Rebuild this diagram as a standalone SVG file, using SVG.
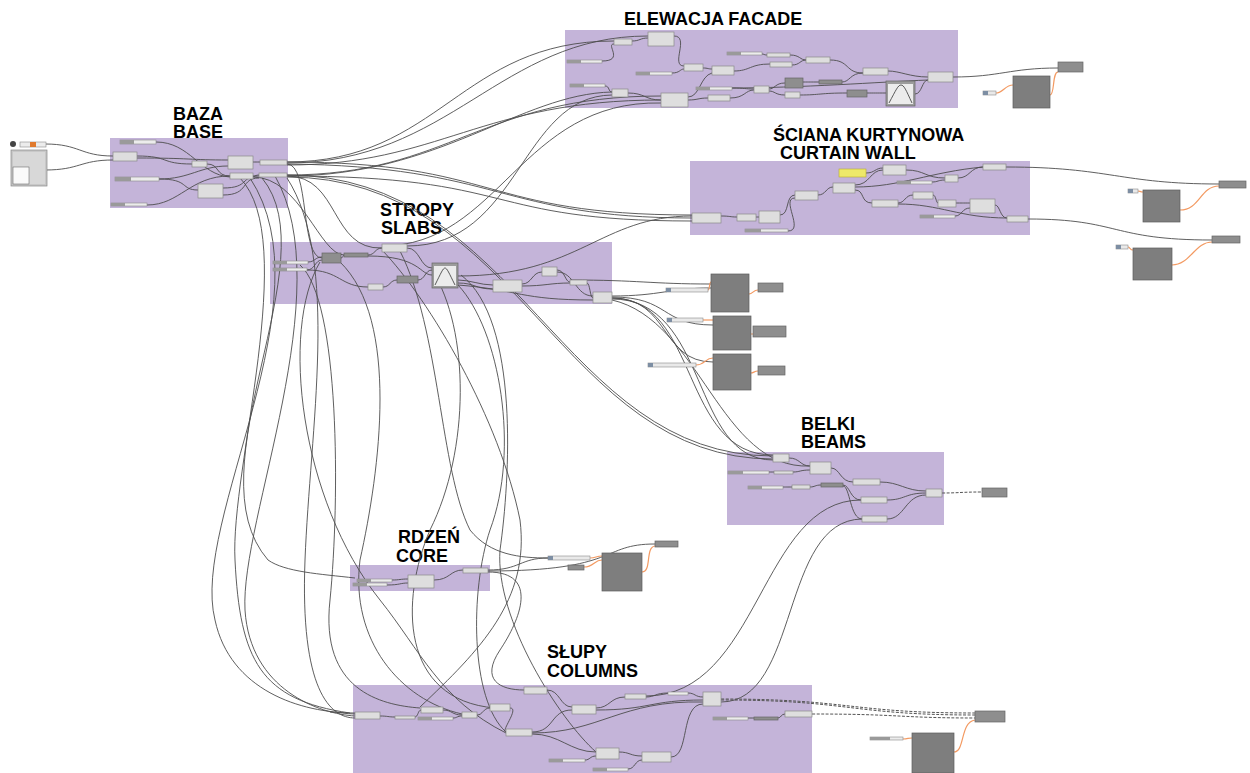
<svg xmlns="http://www.w3.org/2000/svg" width="1250" height="773" viewBox="0 0 1250 773">
<style>
.grp{fill:#c4b4d9}
.t{font-family:"Liberation Sans",Arial,sans-serif;font-weight:bold;font-size:18px;fill:#000}
.n{fill:#dedede;stroke:#8a8a8a;stroke-width:0.7}
.nd{fill:#8e8e8e;stroke:#666;stroke-width:0.7}
.big{fill:#7e7e7e;stroke:#5c5c5c;stroke-width:0.7}
.sl{fill:#ececec;stroke:#8a8a8a;stroke-width:0.6}
.sll{fill:#9a9a9a}
.pn{fill:#e9e9e9;stroke:#8a8a8a;stroke-width:0.6}
.pi{fill:#7d8ea3}
.gm{fill:#9c9c9c;stroke:#666;stroke-width:0.7}
.gmi{fill:#ececec}
.hump{fill:none;stroke:#333;stroke-width:0.8}
.w{fill:none;stroke:#4d4d4d;stroke-width:0.9}
.wd{fill:none;stroke:#555;stroke-width:1;stroke-dasharray:3 1.5}
.wo{fill:none;stroke:#f39a62;stroke-width:1.2}
</style>

<!-- groups (clusters) -->
<g id="groups">
<rect class="grp" x="565" y="30" width="393" height="78"/>
<rect class="grp" x="110" y="138" width="178" height="70"/>
<rect class="grp" x="690" y="161" width="340" height="74"/>
<rect class="grp" x="270" y="242" width="342" height="62"/>
<rect class="grp" x="727" y="452" width="217" height="73"/>
<rect class="grp" x="350" y="565" width="140" height="26"/>
<rect class="grp" x="353" y="685" width="459" height="88"/>
</g>

<g id="titles">
<text class="t" x="624" y="25">ELEWACJA FACADE</text>
<text class="t" x="173" y="120">BAZA<tspan x="173" y="138">BASE</tspan></text>
<text class="t" x="773" y="141">ŚCIANA KURTYNOWA<tspan x="780" y="159">CURTAIN WALL</tspan></text>
<text class="t" x="380" y="216">STROPY<tspan x="381" y="234">SLABS</tspan></text>
<text class="t" x="801" y="430">BELKI<tspan x="801" y="448">BEAMS</tspan></text>
<text class="t" x="398" y="543">RDZEŃ<tspan x="396" y="562">CORE</tspan></text>
<text class="t" x="547" y="658">SŁUPY<tspan x="547" y="677">COLUMNS</tspan></text>
</g>

<g id="connectors">
<!-- left inputs -->
<path class="w" d="M45,144 C80,144 80,156 113,156"/>
<path class="w" d="M45,170 C80,170 80,160 113,160"/>
<!-- baza internal -->
<path class="w" d="M137,156 C170,156 160,164 192,164"/>
<path class="w" d="M137,158 C190,158 190,160 228,160"/>
<path class="w" d="M159,179 C190,179 200,166 228,166"/>
<path class="w" d="M159,179 C190,179 180,190 198,190"/>
<path class="w" d="M147,205 C180,205 190,176 230,176"/>
<path class="w" d="M156,142 C190,142 200,175 230,177"/>
<path class="w" d="M207,164 C220,164 215,176 230,176"/>
<path class="w" d="M253,162 C256,162 256,162 260,162"/>
<path class="w" d="M253,176 C256,176 256,175 259,175"/>
<path class="w" d="M223,188 C250,188 240,176 259,176"/>
<path class="w" d="M223,195 C250,195 240,178 259,178"/>
<!-- baza to elevation -->
<path class="w" d="M287,162 C440,162 460,41 614,41"/>
<path class="w" d="M287,163 C450,163 500,36 648,36"/>
<path class="w" d="M287,165 C440,165 480,100 661,100"/>
<path class="w" d="M287,175 C450,175 480,96 661,96"/>
<path class="w" d="M287,176 C440,176 520,94 612,92"/>
<!-- baza to curtain -->
<path class="w" d="M287,162 C500,162 480,215 692,215"/>
<path class="w" d="M287,164 C500,166 500,218 692,218"/>
<path class="w" d="M287,176 C520,176 480,221 692,221"/>
<!-- baza to beams -->
<path class="w" d="M287,175 C520,175 560,456 773,456"/>
<path class="w" d="M287,177 C520,177 560,459 773,459"/>
<!-- baza to slabs -->
<path class="w" d="M287,164 C310,164 300,258 322,258"/>
<path class="w" d="M287,176 C340,176 330,250 382,248"/>
<path class="w" d="M253,177 C300,177 320,255 344,255"/>
<!-- baza vertical -->
<path class="w" d="M262,178 C330,260 190,470 268,560 C285,572 320,574 355,578"/>
<path class="w" d="M250,178 C330,300 190,520 215,620 C230,690 300,713 355,713"/>
<path class="w" d="M275,176 C340,290 240,520 245,610 C250,690 320,714 355,716"/>
<path class="w" d="M287,178 C340,260 310,430 305,560 C300,690 330,718 355,718"/>
<path class="w" d="M240,178 C300,240 230,470 235,560 C240,660 260,700 350,713"/>
<!-- slabs internal -->
<path class="w" d="M308,262 C315,262 315,257 322,257"/>
<path class="w" d="M307,270 C315,270 315,260 322,260"/>
<path class="w" d="M341,258 C343,258 343,255 344,255"/>
<path class="w" d="M368,255 C375,255 375,248 382,248"/>
<path class="w" d="M307,270 C340,270 340,287 368,287"/>
<path class="w" d="M383,287 C390,287 390,280 397,280"/>
<path class="w" d="M418,280 C425,280 425,270 432,270"/>
<path class="w" d="M407,248 C420,248 420,268 432,268"/>
<path class="w" d="M368,256 C420,256 420,275 432,275"/>
<path class="w" d="M458,280 C470,280 480,285 493,285"/>
<path class="w" d="M458,283 C475,283 475,289 493,289"/>
<path class="w" d="M522,284 C532,284 532,272 542,272"/>
<path class="w" d="M522,286 C545,286 550,283 570,283"/>
<path class="w" d="M557,270 C565,270 565,282 570,282"/>
<path class="w" d="M557,272 C575,272 575,296 593,296"/>
<path class="w" d="M587,283 C590,283 590,298 593,298"/>
<path class="w" d="M458,285 C520,290 520,300 593,300"/>
<path class="w" d="M458,276 C580,276 600,216 692,216"/>
<!-- slabs to elevation -->
<path class="w" d="M407,246 C520,246 520,96 612,95"/>
<path class="w" d="M382,246 C500,246 520,100 661,103"/>
<!-- slabs to outputs -->
<path class="w" d="M612,296 C660,296 670,288 711,288"/>
<path class="w" d="M570,280 C640,280 650,284 711,284"/>
<path class="w" d="M612,297 C670,297 660,325 713,325"/>
<path class="w" d="M612,298 C670,298 660,362 713,362"/>
<!-- slabs to beams -->
<path class="w" d="M612,298 C700,298 680,455 773,455"/>
<path class="w" d="M612,299 C710,299 690,460 773,460"/>
<path class="w" d="M612,300 C700,320 720,470 810,466"/>
<!-- slabs down to core / columns -->
<path class="w" d="M400,251 C440,330 440,470 470,530 C490,555 520,558 548,558"/>
<path class="w" d="M432,270 C470,330 470,450 430,530 C400,600 400,700 495,708"/>
<path class="w" d="M382,250 C430,300 500,420 520,520 C530,600 480,650 420,707"/>
<path class="w" d="M300,265 C340,300 340,500 330,600 C320,690 380,705 420,708"/>
<path class="w" d="M458,285 C500,330 520,450 490,530 C470,590 470,700 506,732"/>
<path class="w" d="M340,262 C400,320 380,470 360,560 C350,640 400,700 462,714"/>
<path class="w" d="M461,275 C520,320 510,480 500,550 C495,620 560,720 596,752"/>
<path class="w" d="M320,262 C280,330 300,500 380,600 C420,650 440,700 506,733"/>
<!-- core -->
<path class="w" d="M392,580 C400,580 400,579 408,579"/>
<path class="w" d="M387,585 C400,585 400,583 408,583"/>
<path class="w" d="M434,580 C450,580 450,570 463,570"/>
<path class="w" d="M488,570 C520,570 520,558 548,558"/>
<path class="w" d="M488,571 C620,571 600,544 655,544"/>
<path class="w" d="M488,572 C540,572 520,620 500,650 C480,680 500,690 524,690"/>
<path class="wo" d="M590,558 C596,558 596,556 602,556"/>
<path class="wo" d="M584,567 C594,567 594,560 602,560"/>
<path class="wo" d="M642,572 C652,572 645,547 655,546"/>
<!-- columns internal -->
<path class="w" d="M380,716 C388,716 388,717 395,717"/>
<path class="w" d="M415,717 C418,717 418,710 421,710"/>
<path class="w" d="M443,710 C452,710 452,715 462,715"/>
<path class="w" d="M453,718 C457,718 457,716 462,716"/>
<path class="w" d="M477,715 C483,715 483,708 490,708"/>
<path class="w" d="M510,708 C520,708 500,732 506,732"/>
<path class="w" d="M532,732 C555,732 550,710 572,710"/>
<path class="w" d="M547,690 C560,690 560,707 572,707"/>
<path class="w" d="M596,708 C610,708 610,697 625,697"/>
<path class="w" d="M646,697 C655,697 655,693 668,693"/>
<path class="w" d="M688,693 C695,693 695,697 703,697"/>
<path class="w" d="M532,733 C600,733 620,700 703,702"/>
<path class="w" d="M596,710 C650,710 650,700 703,700"/>
<path class="w" d="M532,734 C560,734 570,752 596,752"/>
<path class="w" d="M585,760 C590,760 590,756 596,756"/>
<path class="w" d="M619,752 C630,752 630,756 642,756"/>
<path class="w" d="M628,769 C635,769 635,760 642,760"/>
<path class="w" d="M671,757 C690,757 680,704 703,704"/>
<path class="w" d="M748,718 C751,718 751,718 754,718"/>
<path class="w" d="M778,718 C781,718 781,714 785,714"/>
<path class="w" d="M330,712 C340,712 345,714 355,714"/>
<!-- columns to beams -->
<path class="w" d="M646,696 C760,696 760,500 861,500"/>
<path class="w" d="M721,702 C800,702 780,520 862,519"/>
<!-- columns to output -->
<path class="wd" d="M721,699 C850,699 850,713 975,713"/>
<path class="wd" d="M721,700 C850,700 850,715 975,715"/>
<path class="wd" d="M812,714 C900,714 900,718 975,718"/>
<path class="wo" d="M903,739 C908,739 908,738 912,738"/>
<path class="wo" d="M954,752 C965,752 960,722 975,720"/>
<!-- beams internal -->
<path class="w" d="M789,458 C800,458 800,466 810,466"/>
<path class="w" d="M769,472 C772,472 772,472 774,472"/>
<path class="w" d="M793,472 C800,472 800,470 810,470"/>
<path class="w" d="M831,468 C840,468 840,482 853,482"/>
<path class="w" d="M783,487 C787,487 787,487 792,487"/>
<path class="w" d="M810,487 C815,487 815,485 821,485"/>
<path class="w" d="M843,485 C850,485 850,500 861,500"/>
<path class="w" d="M843,486 C850,486 850,519 862,519"/>
<path class="w" d="M880,482 C900,482 905,491 926,491"/>
<path class="w" d="M887,500 C905,500 905,493 926,493"/>
<path class="w" d="M887,519 C905,519 905,495 926,495"/>
<path class="wd" d="M942,493 C960,493 960,492 982,492"/>
<!-- curtain internal -->
<path class="w" d="M721,216 C730,216 730,217 737,217"/>
<path class="w" d="M756,217 C757,217 757,217 759,217"/>
<path class="w" d="M780,215 C790,215 785,195 795,195"/>
<path class="w" d="M788,231 C805,231 780,198 795,198"/>
<path class="w" d="M818,195 C826,195 826,187 833,187"/>
<path class="w" d="M855,185 C870,185 870,170 883,170"/>
<path class="w" d="M866,173 C875,173 875,168 883,168"/>
<path class="w" d="M855,187 C900,187 930,172 983,167"/>
<path class="w" d="M906,170 C925,170 925,178 945,178"/>
<path class="w" d="M932,182 C938,182 938,180 945,180"/>
<path class="w" d="M958,178 C970,178 970,167 983,167"/>
<path class="w" d="M855,190 C865,190 860,203 872,203"/>
<path class="w" d="M898,203 C905,203 905,195 913,195"/>
<path class="w" d="M933,195 C936,195 936,203 938,203"/>
<path class="w" d="M898,204 C940,204 960,218 1007,218"/>
<path class="w" d="M956,203 C962,203 962,203 970,203"/>
<path class="w" d="M955,216 C962,216 962,208 970,208"/>
<path class="w" d="M995,205 C1000,205 1000,218 1007,218"/>
<path class="w" d="M1006,167 C1110,167 1120,184 1219,184"/>
<path class="w" d="M1028,219 C1120,219 1110,240 1212,240"/>
<path class="wo" d="M1138,191 C1140,191 1140,192 1143,192"/>
<path class="wo" d="M1180,210 C1200,210 1200,186 1219,186"/>
<path class="wo" d="M1128,247 C1130,247 1130,250 1133,250"/>
<path class="wo" d="M1172,265 C1190,265 1195,242 1212,242"/>
<!-- elevation internal -->
<path class="w" d="M632,41 C640,41 640,38 648,38"/>
<path class="w" d="M602,61 C625,61 605,44 614,44"/>
<path class="w" d="M674,36 C690,36 670,66 684,66"/>
<path class="w" d="M672,73 C680,73 680,69 684,69"/>
<path class="w" d="M703,68 C708,68 708,69 712,69"/>
<path class="w" d="M734,71 C750,71 750,64 770,64"/>
<path class="w" d="M762,54 C764,54 764,55 767,55"/>
<path class="w" d="M790,55 C800,55 800,60 806,60"/>
<path class="w" d="M792,65 C800,65 800,60 806,60"/>
<path class="w" d="M830,60 C850,60 845,73 863,73"/>
<path class="w" d="M605,86 C610,86 608,92 612,92"/>
<path class="w" d="M628,93 C645,93 645,100 661,100"/>
<path class="w" d="M688,100 C698,100 698,98 708,98"/>
<path class="w" d="M688,97 C700,97 700,76 712,73"/>
<path class="w" d="M732,88 C745,88 745,89 754,89"/>
<path class="w" d="M730,98 C745,98 745,90 754,90"/>
<path class="w" d="M769,89 C775,89 775,83 785,83"/>
<path class="w" d="M769,91 C775,91 775,95 785,95"/>
<path class="w" d="M803,82 C810,82 810,82 819,82"/>
<path class="w" d="M842,82 C850,82 850,73 863,73"/>
<path class="w" d="M800,95 C820,95 820,93 847,93"/>
<path class="w" d="M867,93 C875,93 875,93 886,93"/>
<path class="w" d="M888,71 C900,71 910,77 928,77"/>
<path class="w" d="M915,94 C922,94 922,80 928,80"/>
<path class="w" d="M730,88 C800,88 880,82 928,80"/>
<path class="w" d="M953,77 C1000,77 1010,68 1058,68"/>
<path class="wo" d="M996,93 C1003,93 1005,85 1013,85"/>
<path class="wo" d="M1050,95 C1055,95 1052,72 1058,72"/>
<!-- slab output orange -->
<path class="wo" d="M708,290 C710,290 709,282 711,282"/>
<path class="wo" d="M749,294 C753,294 753,290 758,290"/>
<path class="wo" d="M703,320 C708,320 708,320 713,320"/>
<path class="wo" d="M751,334 C752,334 752,334 753,334"/>
<path class="wo" d="M696,365 C705,365 705,358 713,358"/>
<path class="wo" d="M751,373 C754,373 754,371 758,371"/>
</g>

<!-- left inputs -->
<g id="in-slider"><circle cx="13" cy="144" r="3" fill="#444"/><rect class="sl" x="20" y="142" width="26" height="5"/><rect x="30" y="142" width="6" height="5" fill="#e07a2e"/></g>
<g id="in-graph"><rect x="11" y="150" width="36" height="36" fill="#c8c8c8" stroke="#888" stroke-width="0.7"/><rect x="13" y="152" width="32" height="32" fill="#d8d8d8"/><rect x="13" y="167" width="16" height="17" fill="#fafafa" stroke="#555" stroke-width="0.5"/></g>

<!-- BAZA nodes -->
<g id="b1"><rect class="n" x="113" y="152" width="24" height="9"/></g>
<g id="b2"><rect class="sl" x="120" y="140" width="36" height="4"/><rect class="sll" x="120" y="140" width="14" height="4"/></g>
<g id="b3"><rect class="sl" x="115" y="177" width="44" height="4"/><rect class="sll" x="115" y="177" width="16" height="4"/></g>
<g id="b4"><rect class="n" x="192" y="161" width="15" height="6"/></g>
<g id="b5"><rect class="n" x="228" y="156" width="25" height="13"/></g>
<g id="b6"><rect class="n" x="230" y="173" width="23" height="6"/></g>
<g id="b7"><rect class="n" x="260" y="160" width="27" height="5"/></g>
<g id="b8"><rect class="n" x="259" y="173" width="28" height="4"/></g>
<g id="b9"><rect class="n" x="198" y="184" width="25" height="14"/></g>
<g id="b10"><rect class="sl" x="111" y="203" width="36" height="3"/><rect class="sll" x="111" y="203" width="14" height="3"/></g>

<!-- ELEVATION nodes -->
<g id="e1"><rect class="n" x="614" y="39" width="18" height="6"/></g>
<g id="e2"><rect class="n" x="648" y="32" width="26" height="14"/></g>
<g id="e3"><rect class="sl" x="567" y="60" width="35" height="3"/><rect class="sll" x="567" y="60" width="14" height="3"/></g>
<g id="e4"><rect class="sl" x="727" y="52" width="35" height="3"/><rect class="sll" x="727" y="52" width="14" height="3"/></g>
<g id="e5"><rect class="n" x="767" y="53" width="23" height="4"/></g>
<g id="e6"><rect class="n" x="806" y="57" width="24" height="6"/></g>
<g id="e7"><rect class="n" x="684" y="64" width="19" height="7"/></g>
<g id="e8"><rect class="n" x="712" y="66" width="22" height="9"/></g>
<g id="e9"><rect class="n" x="770" y="62" width="22" height="5"/></g>
<g id="e10"><rect class="sl" x="636" y="72" width="36" height="3"/><rect class="sll" x="636" y="72" width="14" height="3"/></g>
<g id="e11"><rect class="sl" x="570" y="84" width="35" height="3"/><rect class="sll" x="570" y="84" width="14" height="3"/></g>
<g id="e12"><rect class="n" x="612" y="89" width="16" height="8"/></g>
<g id="e13"><rect class="n" x="661" y="93" width="27" height="14"/></g>
<g id="e14"><rect class="sl" x="696" y="87" width="36" height="3"/><rect class="sll" x="696" y="87" width="14" height="3"/></g>
<g id="e15"><rect class="n" x="708" y="95" width="22" height="6"/></g>
<g id="e16"><rect class="n" x="754" y="86" width="15" height="7"/></g>
<g id="e17"><rect class="nd" x="785" y="78" width="18" height="10"/></g>
<g id="e18"><rect class="n" x="785" y="92" width="15" height="6"/></g>
<g id="e19"><rect class="nd" x="819" y="80" width="23" height="4"/></g>
<g id="e20"><rect class="n" x="863" y="68" width="25" height="7"/></g>
<g id="e21"><rect class="nd" x="847" y="90" width="20" height="7"/></g>
<g id="e22"><rect class="gm" x="886" y="81" width="29" height="25"/><rect class="gmi" x="888" y="84" width="25" height="20"/><path class="hump" d="M889,103 C896,90 898,85 901,85 C904,85 906,90 912,103"/></g>
<g id="e23"><rect class="n" x="928" y="72" width="25" height="10"/></g>
<g id="e-out"><rect class="nd" x="1058" y="62" width="25" height="10"/></g>
<g id="e-big"><rect class="big" x="1013" y="76" width="37" height="32"/></g>
<g id="e-pan"><rect class="pn" x="983" y="91" width="13" height="4"/><rect class="pi" x="983" y="91" width="5" height="4"/></g>

<!-- CURTAIN WALL nodes -->
<g id="c1"><rect x="839" y="169" width="27" height="8" fill="#eee96a" stroke="#b8ae2e" stroke-width="0.6"/></g>
<g id="c2"><rect class="n" x="883" y="165" width="23" height="10"/></g>
<g id="c3"><rect class="n" x="983" y="164" width="23" height="6"/></g>
<g id="c4"><rect class="n" x="945" y="175" width="13" height="7"/></g>
<g id="c5"><rect class="sl" x="897" y="181" width="35" height="3"/><rect class="sll" x="897" y="181" width="14" height="3"/></g>
<g id="c6"><rect class="n" x="833" y="183" width="22" height="10"/></g>
<g id="c7"><rect class="n" x="795" y="191" width="23" height="9"/></g>
<g id="c8"><rect class="n" x="692" y="213" width="29" height="10"/></g>
<g id="c9"><rect class="n" x="737" y="214" width="19" height="7"/></g>
<g id="c10"><rect class="n" x="759" y="211" width="21" height="12"/></g>
<g id="c11"><rect class="sl" x="745" y="229" width="43" height="3"/><rect class="sll" x="745" y="229" width="16" height="3"/></g>
<g id="c12"><rect class="n" x="872" y="200" width="26" height="7"/></g>
<g id="c13"><rect class="n" x="913" y="192" width="20" height="7"/></g>
<g id="c14"><rect class="n" x="938" y="200" width="18" height="7"/></g>
<g id="c15"><rect class="n" x="970" y="199" width="25" height="14"/></g>
<g id="c16"><rect class="sl" x="920" y="215" width="35" height="3"/><rect class="sll" x="920" y="215" width="14" height="3"/></g>
<g id="c17"><rect class="n" x="1007" y="216" width="21" height="6"/></g>
<g id="c-out1"><rect class="nd" x="1219" y="181" width="27" height="7"/></g>
<g id="c-pan1"><rect class="pn" x="1128" y="189" width="10" height="4"/><rect class="pi" x="1128" y="189" width="5" height="4"/></g>
<g id="c-big1"><rect class="big" x="1143" y="190" width="37" height="32"/></g>
<g id="c-out2"><rect class="nd" x="1212" y="236" width="28" height="7"/></g>
<g id="c-pan2"><rect class="pn" x="1116" y="245" width="12" height="4"/><rect class="pi" x="1116" y="245" width="5" height="4"/></g>
<g id="c-big2"><rect class="big" x="1133" y="248" width="39" height="32"/></g>

<!-- SLABS nodes -->
<g id="s1"><rect class="sl" x="273" y="261" width="35" height="3"/><rect class="sll" x="273" y="261" width="14" height="3"/></g>
<g id="s2"><rect class="sl" x="273" y="268" width="34" height="3"/><rect class="sll" x="273" y="268" width="14" height="3"/></g>
<g id="s3"><rect class="nd" x="322" y="253" width="19" height="10"/></g>
<g id="s4"><rect class="nd" x="344" y="253" width="24" height="4"/></g>
<g id="s5"><rect class="n" x="382" y="244" width="25" height="8"/></g>
<g id="s6"><rect class="n" x="368" y="284" width="15" height="6"/></g>
<g id="s7"><rect class="nd" x="397" y="276" width="21" height="7"/></g>
<g id="s8"><rect class="gm" x="432" y="263" width="26" height="25"/><rect class="gmi" x="434" y="266" width="22" height="20"/><path class="hump" d="M435,285 C441,273 443,268 445,268 C447,268 449,273 455,285"/></g>
<g id="s9"><rect class="n" x="493" y="280" width="29" height="12"/></g>
<g id="s10"><rect class="n" x="542" y="267" width="15" height="9"/></g>
<g id="s11"><rect class="n" x="570" y="280" width="17" height="5"/></g>
<g id="s12"><rect class="n" x="593" y="292" width="19" height="11"/></g>
<g id="so-p1"><rect class="pn" x="666" y="288" width="42" height="4"/><rect class="pi" x="666" y="288" width="5" height="4"/></g>
<g id="so-b1"><rect class="big" x="711" y="274" width="38" height="38"/></g>
<g id="so-o1"><rect class="nd" x="758" y="283" width="25" height="9"/></g>
<g id="so-p2"><rect class="pn" x="667" y="318" width="36" height="4"/><rect class="pi" x="667" y="318" width="5" height="4"/></g>
<g id="so-b2"><rect class="big" x="713" y="316" width="38" height="34"/></g>
<g id="so-o2"><rect class="nd" x="753" y="326" width="33" height="11"/></g>
<g id="so-p3"><rect class="pn" x="648" y="363" width="48" height="4"/><rect class="pi" x="648" y="363" width="5" height="4"/></g>
<g id="so-b3"><rect class="big" x="713" y="354" width="38" height="36"/></g>
<g id="so-o3"><rect class="nd" x="758" y="366" width="27" height="9"/></g>

<!-- BEAMS nodes -->
<g id="m1"><rect class="n" x="773" y="454" width="16" height="8"/></g>
<g id="m2"><rect class="n" x="810" y="462" width="21" height="12"/></g>
<g id="m3"><rect class="sl" x="728" y="471" width="41" height="3"/><rect class="sll" x="728" y="471" width="15" height="3"/></g>
<g id="m4"><rect class="n" x="774" y="471" width="19" height="3"/></g>
<g id="m5"><rect class="n" x="853" y="479" width="27" height="6"/></g>
<g id="m6"><rect class="sl" x="748" y="486" width="35" height="3"/><rect class="sll" x="748" y="486" width="14" height="3"/></g>
<g id="m7"><rect class="n" x="792" y="485" width="18" height="4"/></g>
<g id="m8"><rect class="nd" x="821" y="483" width="22" height="4"/></g>
<g id="m9"><rect class="n" x="861" y="497" width="26" height="6"/></g>
<g id="m10"><rect class="n" x="862" y="516" width="25" height="6"/></g>
<g id="m11"><rect class="n" x="926" y="489" width="16" height="8"/></g>
<g id="m-out"><rect class="nd" x="982" y="488" width="25" height="9"/></g>

<!-- CORE nodes -->
<g id="r1"><rect class="sl" x="357" y="579" width="35" height="3"/><rect class="sll" x="357" y="579" width="14" height="3"/></g>
<g id="r2"><rect class="sl" x="353" y="583" width="34" height="3"/><rect class="sll" x="353" y="583" width="14" height="3"/></g>
<g id="r3"><rect class="n" x="408" y="575" width="26" height="13"/></g>
<g id="r4"><rect class="n" x="463" y="568" width="25" height="5"/></g>
<g id="r-pan"><rect class="pn" x="548" y="556" width="42" height="4"/><rect class="pi" x="548" y="556" width="5" height="4"/></g>
<g id="r-n"><rect class="nd" x="568" y="565" width="16" height="5"/></g>
<g id="r-big"><rect class="big" x="602" y="553" width="40" height="38"/></g>
<g id="r-out"><rect class="nd" x="655" y="541" width="23" height="6"/></g>

<!-- COLUMNS nodes -->
<g id="k1"><rect class="n" x="355" y="712" width="25" height="7"/></g>
<g id="k2"><rect class="n" x="395" y="716" width="20" height="3"/></g>
<g id="k3"><rect class="n" x="421" y="707" width="22" height="6"/></g>
<g id="k4"><rect class="sl" x="418" y="717" width="35" height="3"/><rect class="sll" x="418" y="717" width="14" height="3"/></g>
<g id="k5"><rect class="n" x="462" y="712" width="15" height="6"/></g>
<g id="k6"><rect class="n" x="490" y="704" width="20" height="7"/></g>
<g id="k7"><rect class="n" x="524" y="687" width="23" height="7"/></g>
<g id="k8"><rect class="n" x="506" y="729" width="26" height="7"/></g>
<g id="k9"><rect class="n" x="572" y="705" width="24" height="9"/></g>
<g id="k10"><rect class="n" x="625" y="694" width="21" height="5"/></g>
<g id="k11"><rect class="sl" x="668" y="692" width="20" height="3"/></g>
<g id="k12"><rect class="n" x="703" y="692" width="18" height="14"/></g>
<g id="k13"><rect class="sl" x="713" y="717" width="35" height="3"/><rect class="sll" x="713" y="717" width="14" height="3"/></g>
<g id="k14"><rect class="nd" x="754" y="717" width="24" height="3"/></g>
<g id="k15"><rect class="n" x="785" y="711" width="27" height="6"/></g>
<g id="k16"><rect class="n" x="596" y="748" width="23" height="11"/></g>
<g id="k17"><rect class="n" x="642" y="752" width="29" height="10"/></g>
<g id="k18"><rect class="sl" x="549" y="759" width="36" height="3"/><rect class="sll" x="549" y="759" width="14" height="3"/></g>
<g id="k19"><rect class="sl" x="593" y="768" width="35" height="3"/><rect class="sll" x="593" y="768" width="14" height="3"/></g>
<g id="k-out"><rect class="nd" x="975" y="711" width="30" height="11"/></g>
<g id="k-pan"><rect class="sl" x="870" y="737" width="33" height="3"/><rect class="sll" x="870" y="737" width="20" height="3"/></g>
<g id="k-big"><rect class="big" x="912" y="733" width="42" height="40"/></g>
</svg>
